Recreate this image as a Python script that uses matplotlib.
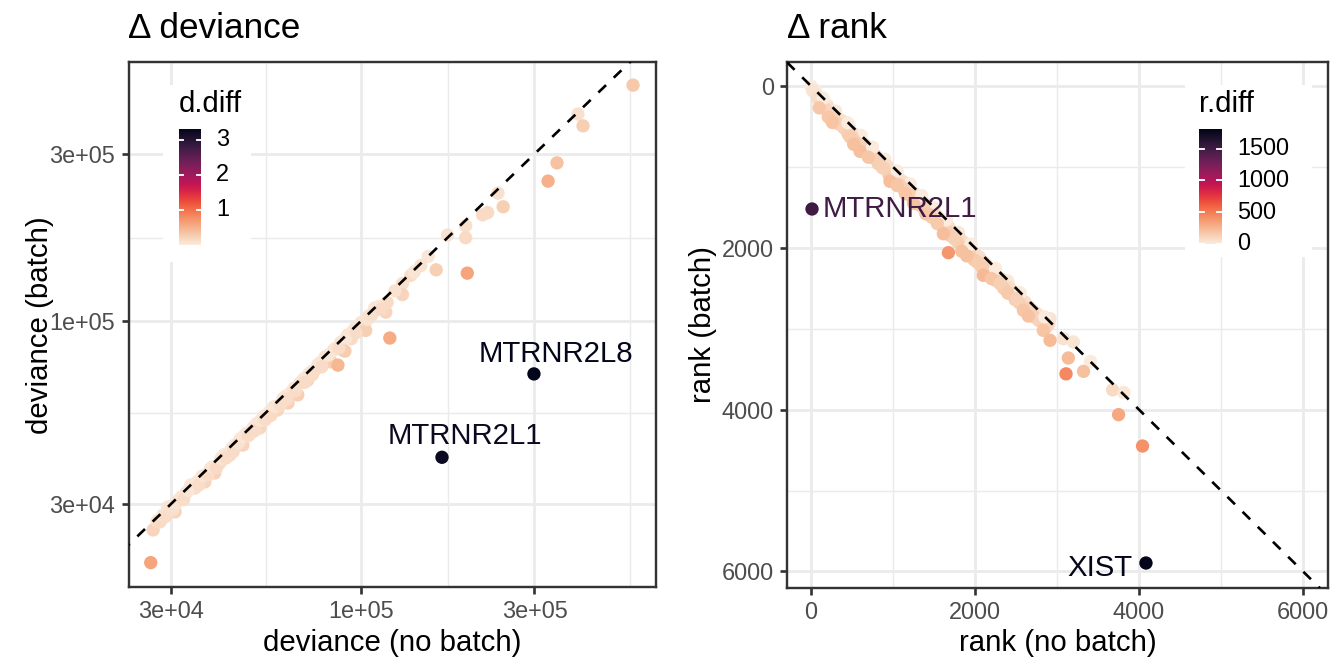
import numpy as np
import matplotlib
matplotlib.use("Agg")
import matplotlib.pyplot as plt
import seaborn as sns
from matplotlib.patches import Rectangle
from matplotlib.ticker import FixedLocator, NullFormatter

plt.rcParams['font.family'] = ['Liberation Sans', 'DejaVu Sans']

# ---- data: deviance panel ----
dev_nobatch = [26400, 26800, 27500, 28000, 29400, 30800, 31500, 33000, 34000, 34900,
               36500, 37200, 38500, 39600, 40900, 42000, 43600, 45000, 46500, 47300,
               48500, 49800, 51500, 52700, 54000, 55400, 57500, 59000, 61000, 63000,
               64500, 67000, 68000, 71400, 72000, 74700, 76000, 79600, 80500, 82700,
               84000, 86400, 88000, 89200, 90300, 92000, 94000, 96000, 99300, 100000,
               102000, 103000, 105000, 109000, 109000, 117000, 118000, 120000, 130000, 130000,
               137000, 153000, 161000, 173000, 194000, 194000, 196000, 216000, 223000, 238000,
               246000, 327000, 346000, 395000, 408000, 560000,
               28500, 29000, 30000, 30300, 31000, 32000, 32500, 33500, 35500, 35800,
               37000, 38000, 39000, 40000, 41200, 42500, 44000, 44500, 46000, 47500,
               49000, 50500, 51000, 53000, 54500, 56000, 56500, 58000, 60000, 62000,
               62500, 65500, 66000, 69500, 70000, 73000, 73500, 77500, 78000, 81500,
               85000, 87000, 91000, 95000, 97000, 104000, 107000, 112000, 114000, 124000,
               140000, 146000,
               167000, 299000]
dev_batch = [20400, 25300, 26800, 26700, 29400, 28500, 30800, 32300, 34000, 33300,
             36000, 34700, 37800, 36800, 39300, 41500, 41400, 44200, 46000, 44200,
             47800, 47900, 50800, 49500, 53500, 53200, 56800, 55700, 60000, 58300,
             62800, 61500, 66500, 67800, 70800, 72400, 75000, 78900, 79200, 76400,
             82500, 74800, 87000, 82600, 82000, 91200, 89000, 95000, 94200, 99000,
             97500, 94000, 103500, 107000, 109000, 106000, 113000, 89400, 128000, 119000,
             135000, 153000, 140000, 176000, 187000, 173000, 137000, 201000, 204000, 232000,
             212000, 251000, 283000, 390000, 361000, 472000,
             27900, 27600, 29500, 28900, 30200, 31400, 30900, 32800, 34800, 34000,
             36200, 36300, 38300, 38000, 40500, 40600, 43200, 42300, 44800, 46800,
             47000, 49600, 48600, 52000, 52200, 55000, 53800, 57000, 57500, 61000,
             59800, 64300, 63200, 68300, 66800, 71700, 70200, 76300, 74000, 80000,
             83500, 83800, 89600, 93500, 92600, 101000, 104000, 110000, 108000, 122000,
             138000, 144000,
             40800, 70600]
d_diff = [0.6, 0.2, 0.1, 0.15, 0.05, 0.2, 0.08, 0.08, 0.05, 0.12,
          0.05, 0.2, 0.08, 0.22, 0.12, 0.05, 0.15, 0.06, 0.05, 0.2,
          0.06, 0.12, 0.05, 0.18, 0.05, 0.12, 0.06, 0.18, 0.06, 0.22,
          0.08, 0.25, 0.08, 0.18, 0.06, 0.12, 0.05, 0.06, 0.08, 0.25,
          0.08, 0.45, 0.06, 0.2, 0.28, 0.08, 0.15, 0.06, 0.15, 0.06,
          0.12, 0.25, 0.05, 0.1, 0.05, 0.2, 0.15, 0.55, 0.1, 0.2,
          0.12, 0.05, 0.25, 0.08, 0.1, 0.15, 0.6, 0.15, 0.15, 0.1,
          0.25, 0.5, 0.35, 0.1, 0.25, 0.3,
          0.06, 0.12, 0.05, 0.1, 0.06, 0.05, 0.12, 0.05, 0.05, 0.12,
          0.06, 0.12, 0.05, 0.15, 0.06, 0.12, 0.05, 0.14, 0.08, 0.05,
          0.12, 0.05, 0.14, 0.06, 0.12, 0.05, 0.15, 0.05, 0.12, 0.05,
          0.12, 0.06, 0.12, 0.05, 0.14, 0.05, 0.12, 0.06, 0.14, 0.05,
          0.06, 0.12, 0.05, 0.06, 0.14, 0.08, 0.1, 0.06, 0.15, 0.08,
          0.06, 0.08,
          3.2, 3.3]
dev_labels = {"MTRNR2L1": len(dev_nobatch) - 2, "MTRNR2L8": len(dev_nobatch) - 1}

# ---- data: rank panel ----
rank_nobatch = [1, 30, 50, 70, 110, 150, 200, 240, 290, 300, 330, 380, 420, 470, 520, 560,
                600, 610, 650, 700, 740, 790, 840, 880, 900, 930, 980, 1020, 1070, 1120,
                1160, 1200, 1210, 1260, 1289, 1300, 1350, 1400, 1440, 1490, 1500, 1540, 1580,
                1630, 1680, 1720, 1770, 1800, 1820, 1860, 1910, 1960, 2000, 2050, 2100, 2140,
                2190, 2240, 2280, 2330, 2380, 2400, 2420, 2470, 2520, 2560, 2610, 2660, 2700,
                2750, 2800, 2850, 2900, 2915, 3077, 3199, 3409, 3678, 3816,
                20, 80, 130, 180, 230, 280, 340, 400, 450, 500, 550, 620, 680, 760, 820, 870,
                950, 1000, 1080, 1130, 1190, 1240, 1320, 1370, 1430, 1470, 1560, 1600, 1650,
                1700, 1750, 1790, 1850, 1930, 1990, 2030, 2120, 2170, 2250, 2300, 2350, 2440,
                2490, 2540, 2620, 2680, 2730, 2780, 2870,
                150, 450, 750, 1050, 1350, 1650, 1950, 2250, 2550, 2850,
                100, 211, 260, 476, 520, 598, 700, 882, 963, 1050, 1150, 1250, 1400, 1540,
                1613, 1838, 1900, 2082, 2101, 2200, 2305, 2400, 2508, 2590, 2650, 2833, 2915,
                3138, 1675, 3110, 3323, 3751, 4043, 12, 4085]
rank_batch = [5, 40, 50, 110, 160, 200, 240, 300, 340, 310, 400, 430, 490, 530, 590, 620,
              680, 610, 720, 770, 810, 860, 900, 960, 905, 990, 1050, 1090, 1140, 1180,
              1240, 1270, 1210, 1330, 1351, 1370, 1420, 1460, 1520, 1550, 1505, 1610, 1650,
              1700, 1740, 1800, 1830, 1810, 1890, 1930, 1980, 2020, 2080, 2110, 2170, 2210,
              2260, 2300, 2360, 2390, 2450, 2410, 2490, 2540, 2580, 2640, 2670, 2730, 2770,
              2810, 2850, 2900, 2950, 2876, 3123, 3164, 3405, 3756, 3790,
              60, 150, 220, 290, 330, 400, 470, 520, 590, 620, 700, 760, 820, 890, 960, 1010,
              1100, 1150, 1220, 1270, 1340, 1380, 1470, 1500, 1580, 1620, 1700, 1730, 1790,
              1850, 1890, 1930, 2000, 2070, 2150, 2180, 2260, 2320, 2400, 2430, 2500, 2570,
              2640, 2680, 2750, 2800, 2860, 2900, 2980,
              150, 455, 755, 1050, 1355, 1655, 1955, 2255, 2555, 2855,
              270, 383, 450, 630, 720, 807, 880, 1013, 1178, 1230, 1330, 1450, 1580, 1700,
              1826, 2043, 2100, 2237, 2340, 2380, 2444, 2560, 2629, 2773, 2843, 3020, 3143,
              3362, 2060, 3558, 3527, 4062, 4450, 1520, 5896]
rank_labels = {"MTRNR2L1": len(rank_nobatch) - 2, "XIST": len(rank_nobatch) - 1}

cmap = sns.color_palette("rocket_r", as_cmap=True)
W, H = 1344, 672


def px_rect(x0, y0, x1, y1):
    return [x0 / W, 1 - y1 / H, (x1 - x0) / W, (y1 - y0) / H]


def style_axes(ax):
    ax.set_facecolor("white")
    for s in ax.spines.values():
        s.set_color("#333333")
        s.set_linewidth(0.9)
    ax.grid(which="major", color="#EBEBEB", linewidth=1.07)
    ax.grid(which="minor", color="#EBEBEB", linewidth=0.53)
    ax.set_axisbelow(True)
    ax.tick_params(which="major", length=2.75, width=1.0, color="#333333",
                   labelcolor="#4D4D4D", labelsize=8.8, pad=2.2)
    ax.tick_params(which="minor", length=0)


def colorbar(x0, y0, x1, y1, vmax, ticks, title, lx):
    cax = fig.add_axes(px_rect(x0, y0, x1, y1), zorder=5)
    grad = np.linspace(0, vmax, 300).reshape(-1, 1)
    cax.imshow(grad, cmap=cmap, aspect="auto", origin="lower",
               extent=[0, 1, 0, vmax], vmin=0, vmax=vmax)
    for t in ticks:
        cax.plot([0, 0.2], [t, t], color="white", lw=0.7)
        cax.plot([0.8, 1], [t, t], color="white", lw=0.7)
        ty = y1 - t / vmax * (y1 - y0)
        fig.text(lx / W, 1 - ty / H, str(t), fontsize=8.8, va="center", ha="left", zorder=6)
    cax.set_xlim(0, 1)
    cax.set_ylim(0, vmax)
    cax.set_axis_off()
    fig.text(x0 / W, 1 - (y0 - 25) / H, title, fontsize=11, va="center", ha="left", zorder=6)


fig = plt.figure(figsize=(7, 3.5), dpi=192)

# ---- left panel ----
ax1 = fig.add_axes(px_rect(128.5, 62, 655.5, 587))
style_axes(ax1)
ax1.set_xscale("log")
ax1.set_yscale("log")
ref = np.array([1e4, 1e7])
ax1.plot(ref, ref, color="black", lw=1.0, ls=(0, (4, 4)), zorder=3)
dmax = max(d_diff)
ax1.scatter(dev_nobatch, dev_batch, c=d_diff, cmap=cmap, vmin=0, vmax=dmax,
            s=25, linewidths=0, zorder=2)
offsets1 = {"MTRNR2L1": (8.6, 7.9), "MTRNR2L8": (8.3, 7.5)}
for name, i in dev_labels.items():
    ax1.annotate(name, (dev_nobatch[i], dev_batch[i]), xytext=offsets1[name],
                 textcoords="offset points", ha="center", va="center", fontsize=11,
                 color=cmap(d_diff[i] / dmax), zorder=4)
ax1.set_xlim(22930, 645700)
ax1.set_ylim(17380, 549500)
ax1.xaxis.set_major_locator(FixedLocator([3e4, 1e5, 3e5]))
ax1.yaxis.set_major_locator(FixedLocator([3e4, 1e5, 3e5]))
ax1.set_xticklabels(["3e+04", "1e+05", "3e+05"])
ax1.set_yticklabels(["3e+04", "1e+05", "3e+05"])
ax1.xaxis.set_minor_locator(FixedLocator([54772, 173205, 547723]))
ax1.yaxis.set_minor_locator(FixedLocator([54772, 173205, 547723]))
ax1.xaxis.set_minor_formatter(NullFormatter())
ax1.yaxis.set_minor_formatter(NullFormatter())

# ---- right panel ----
ax2 = fig.add_axes(px_rect(787, 62, 1328, 588))
style_axes(ax2)
r_diff = np.abs(np.array(rank_batch) - np.array(rank_nobatch))
rmax = r_diff.max()
ax2.axline((0, 0), slope=1, color="black", lw=1.0, ls=(0, (4, 4)), zorder=3)
ax2.scatter(rank_nobatch, rank_batch, c=r_diff, cmap=cmap, vmin=0, vmax=rmax,
            s=25, linewidths=0, zorder=2)
offsets2 = {"MTRNR2L1": ((3.8, 0), "left"), "XIST": ((-4.9, -1.9), "right")}
for name, i in rank_labels.items():
    off, ha = offsets2[name]
    ax2.annotate(name, (rank_nobatch[i], rank_batch[i]), xytext=off,
                 textcoords="offset points", ha=ha, va="center", fontsize=11,
                 color=cmap(r_diff[i] / rmax), zorder=4)
ax2.set_xlim(-293, 6305)
ax2.set_ylim(6205, -297)
ax2.xaxis.set_major_locator(FixedLocator([0, 2000, 4000, 6000]))
ax2.yaxis.set_major_locator(FixedLocator([0, 2000, 4000, 6000]))
ax2.xaxis.set_minor_locator(FixedLocator([1000, 3000, 5000]))
ax2.yaxis.set_minor_locator(FixedLocator([1000, 3000, 5000]))

# ---- titles and axis labels ----
fig.text(128.5 / W, 1 - 29 / H, "Δ deviance", fontsize=13.2, va="center", ha="left")
fig.text(787 / W, 1 - 29 / H, "Δ rank", fontsize=13.2, va="center", ha="left")
fig.text((128.5 + 655.5) / 2 / W, 1 - 643 / H, "deviance (no batch)", fontsize=11,
         ha="center", va="center")
fig.text((787 + 1328) / 2 / W, 1 - 643 / H, "rank (no batch)", fontsize=11,
         ha="center", va="center")
fig.text(40 / W, 1 - 325 / H, "deviance (batch)", fontsize=11, rotation=90,
         ha="center", va="center")
fig.text(703 / W, 1 - 325 / H, "rank (batch)", fontsize=11, rotation=90,
         ha="center", va="center")

# ---- legends ----
for (x0, y0, x1, y1) in [(163, 85, 251, 262), (1185, 85, 1312, 257)]:
    r = px_rect(x0, y0, x1, y1)
    fig.add_artist(Rectangle((r[0], r[1]), r[2], r[3], transform=fig.transFigure,
                             facecolor="white", edgecolor="none", zorder=3))
colorbar(179, 129, 201, 245, dmax, [1, 2, 3], "d.diff", 216)
colorbar(1199, 129, 1222, 244, rmax, [0, 500, 1000, 1500], "r.diff", 1237)

fig.savefig("out.png", dpi=192, facecolor="white")
